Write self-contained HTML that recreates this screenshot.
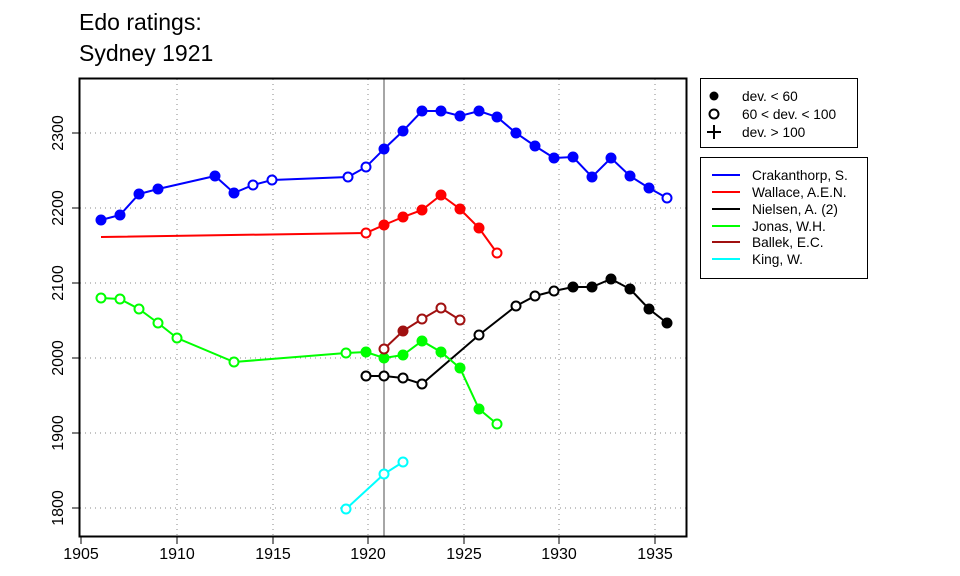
<!DOCTYPE html>
<html><head><meta charset="utf-8"><style>body{margin:0;background:#fff}svg{display:block}text{font-family:"Liberation Sans",Arial,sans-serif}</style></head><body>
<svg width="960" height="576" xmlns="http://www.w3.org/2000/svg">
<text x="79" y="30" font-size="23">Edo ratings:</text>
<text x="79" y="61" font-size="23">Sydney 1921</text>
<g stroke="#888" stroke-dasharray="1,4" stroke-width="1">
<line x1="177" y1="79" x2="177" y2="536"/><line x1="273" y1="79" x2="273" y2="536"/><line x1="368" y1="79" x2="368" y2="536"/><line x1="464" y1="79" x2="464" y2="536"/><line x1="559" y1="79" x2="559" y2="536"/><line x1="655" y1="79" x2="655" y2="536"/>
<line x1="80" y1="133" x2="686" y2="133"/><line x1="80" y1="208" x2="686" y2="208"/><line x1="80" y1="283" x2="686" y2="283"/><line x1="80" y1="358" x2="686" y2="358"/><line x1="80" y1="433" x2="686" y2="433"/><line x1="80" y1="508" x2="686" y2="508"/>
</g>
<line x1="384" y1="79" x2="384" y2="536" stroke="#888" stroke-width="1.5"/>
<rect x="79.5" y="78.5" width="607" height="458" fill="none" stroke="#000" stroke-width="2"/>
<g stroke="#000" stroke-width="1">
<line x1="81" y1="537" x2="81" y2="544"/><line x1="177" y1="537" x2="177" y2="544"/><line x1="273" y1="537" x2="273" y2="544"/><line x1="368" y1="537" x2="368" y2="544"/><line x1="464" y1="537" x2="464" y2="544"/><line x1="559" y1="537" x2="559" y2="544"/><line x1="655" y1="537" x2="655" y2="544"/>
<line x1="72" y1="133" x2="79" y2="133"/><line x1="72" y1="208" x2="79" y2="208"/><line x1="72" y1="283" x2="79" y2="283"/><line x1="72" y1="358" x2="79" y2="358"/><line x1="72" y1="433" x2="79" y2="433"/><line x1="72" y1="508" x2="79" y2="508"/>
</g>
<g font-size="16" text-anchor="middle">
<text x="81" y="559">1905</text><text x="177" y="559">1910</text><text x="273" y="559">1915</text><text x="368" y="559">1920</text><text x="464" y="559">1925</text><text x="559" y="559">1930</text><text x="655" y="559">1935</text>
<text transform="translate(63,133) rotate(-90)">2300</text><text transform="translate(63,208) rotate(-90)">2200</text><text transform="translate(63,283) rotate(-90)">2100</text><text transform="translate(63,358) rotate(-90)">2000</text><text transform="translate(63,433) rotate(-90)">1900</text><text transform="translate(63,508) rotate(-90)">1800</text>
</g>
<g fill="none" stroke-width="2">
<polyline stroke="#00f" points="101,220 120,215 139,194 158,189 215,176 234,193 253,185 272,180 348,177 366,167 384,149 403,131 422,111 441,111 460,116 479,111 497,117 516,133 535,146 554,158 573,157 592,177 611,158 630,176 649,188 667,198"/>
<polyline stroke="#f00" points="101,237 366,233 384,225 403,217 422,210 441,195 460,209 479,228 497,253"/>
<polyline stroke="#000" points="366,376 384,376 403,378 422,384 479,335 516,306 535,296 554,291 573,287 592,287 611,279 630,289 649,309 667,323"/>
<polyline stroke="#0f0" points="101,298 120,299 139,309 158,323 177,338 234,362 346,353 366,352 384,358 403,355 422,341 441,352 460,368 479,409 497,424"/>
<polyline stroke="#a01010" points="384,349 403,331 422,319 441,308 460,320"/>
<polyline stroke="#0ff" points="346,509 384,474 403,462"/>
</g>
<g stroke-width="2">
<g fill="#00f" stroke="#00f"><circle cx="101" cy="220" r="4.5"/><circle cx="120" cy="215" r="4.5"/><circle cx="139" cy="194" r="4.5"/><circle cx="158" cy="189" r="4.5"/><circle cx="215" cy="176" r="4.5"/><circle cx="234" cy="193" r="4.5"/><circle cx="384" cy="149" r="4.5"/><circle cx="403" cy="131" r="4.5"/><circle cx="422" cy="111" r="4.5"/><circle cx="441" cy="111" r="4.5"/><circle cx="460" cy="116" r="4.5"/><circle cx="479" cy="111" r="4.5"/><circle cx="497" cy="117" r="4.5"/><circle cx="516" cy="133" r="4.5"/><circle cx="535" cy="146" r="4.5"/><circle cx="554" cy="158" r="4.5"/><circle cx="573" cy="157" r="4.5"/><circle cx="592" cy="177" r="4.5"/><circle cx="611" cy="158" r="4.5"/><circle cx="630" cy="176" r="4.5"/><circle cx="649" cy="188" r="4.5"/></g>
<g fill="#fff" stroke="#00f"><circle cx="253" cy="185" r="4.5"/><circle cx="272" cy="180" r="4.5"/><circle cx="348" cy="177" r="4.5"/><circle cx="366" cy="167" r="4.5"/><circle cx="667" cy="198" r="4.5"/></g>
<g fill="#f00" stroke="#f00"><circle cx="384" cy="225" r="4.5"/><circle cx="403" cy="217" r="4.5"/><circle cx="422" cy="210" r="4.5"/><circle cx="441" cy="195" r="4.5"/><circle cx="460" cy="209" r="4.5"/><circle cx="479" cy="228" r="4.5"/></g>
<g fill="#fff" stroke="#f00"><circle cx="366" cy="233" r="4.5"/><circle cx="497" cy="253" r="4.5"/></g>
<g fill="#fff" stroke="#000"><circle cx="366" cy="376" r="4.5"/><circle cx="384" cy="376" r="4.5"/><circle cx="403" cy="378" r="4.5"/><circle cx="422" cy="384" r="4.5"/><circle cx="479" cy="335" r="4.5"/><circle cx="516" cy="306" r="4.5"/><circle cx="535" cy="296" r="4.5"/><circle cx="554" cy="291" r="4.5"/></g>
<g fill="#000" stroke="#000"><circle cx="573" cy="287" r="4.5"/><circle cx="592" cy="287" r="4.5"/><circle cx="611" cy="279" r="4.5"/><circle cx="630" cy="289" r="4.5"/><circle cx="649" cy="309" r="4.5"/><circle cx="667" cy="323" r="4.5"/></g>
<g fill="#fff" stroke="#0f0"><circle cx="101" cy="298" r="4.5"/><circle cx="120" cy="299" r="4.5"/><circle cx="139" cy="309" r="4.5"/><circle cx="158" cy="323" r="4.5"/><circle cx="177" cy="338" r="4.5"/><circle cx="234" cy="362" r="4.5"/><circle cx="346" cy="353" r="4.5"/><circle cx="497" cy="424" r="4.5"/></g>
<g fill="#0f0" stroke="#0f0"><circle cx="366" cy="352" r="4.5"/><circle cx="384" cy="358" r="4.5"/><circle cx="403" cy="355" r="4.5"/><circle cx="422" cy="341" r="4.5"/><circle cx="441" cy="352" r="4.5"/><circle cx="460" cy="368" r="4.5"/><circle cx="479" cy="409" r="4.5"/></g>
<g fill="#fff" stroke="#a01010"><circle cx="384" cy="349" r="4.5"/><circle cx="422" cy="319" r="4.5"/><circle cx="441" cy="308" r="4.5"/><circle cx="460" cy="320" r="4.5"/></g>
<circle cx="403" cy="331" r="4.5" fill="#a01010" stroke="#a01010"/>
<g fill="#fff" stroke="#0ff"><circle cx="346" cy="509" r="4.5"/><circle cx="384" cy="474" r="4.5"/><circle cx="403" cy="462" r="4.5"/></g>
</g>
<rect x="700.5" y="78.5" width="157" height="69" fill="#fff" stroke="#000"/>
<circle cx="714" cy="96" r="4.5" fill="#000"/>
<circle cx="714" cy="114" r="4.5" fill="none" stroke="#000" stroke-width="2"/>
<path d="M707 132h14M714 125v14" stroke="#000" stroke-width="2"/>
<g font-size="13.7"><text x="742" y="101">dev. &lt; 60</text><text x="742" y="119">60 &lt; dev. &lt; 100</text><text x="742" y="137">dev. &gt; 100</text></g>
<rect x="700.5" y="157.5" width="167" height="121" fill="#fff" stroke="#000"/>
<g stroke-width="2"><line x1="712" x2="740" y1="175" y2="175" stroke="#00f"/><line x1="712" x2="740" y1="192" y2="192" stroke="#f00"/><line x1="712" x2="740" y1="209" y2="209" stroke="#000"/><line x1="712" x2="740" y1="226" y2="226" stroke="#0f0"/><line x1="712" x2="740" y1="242" y2="242" stroke="#a01010"/><line x1="712" x2="740" y1="259" y2="259" stroke="#0ff"/></g>
<g font-size="13.7"><text x="752" y="180">Crakanthorp, S.</text><text x="752" y="197">Wallace, A.E.N.</text><text x="752" y="214">Nielsen, A. (2)</text><text x="752" y="231">Jonas, W.H.</text><text x="752" y="247">Ballek, E.C.</text><text x="752" y="264">King, W.</text></g>
</svg>
</body></html>
